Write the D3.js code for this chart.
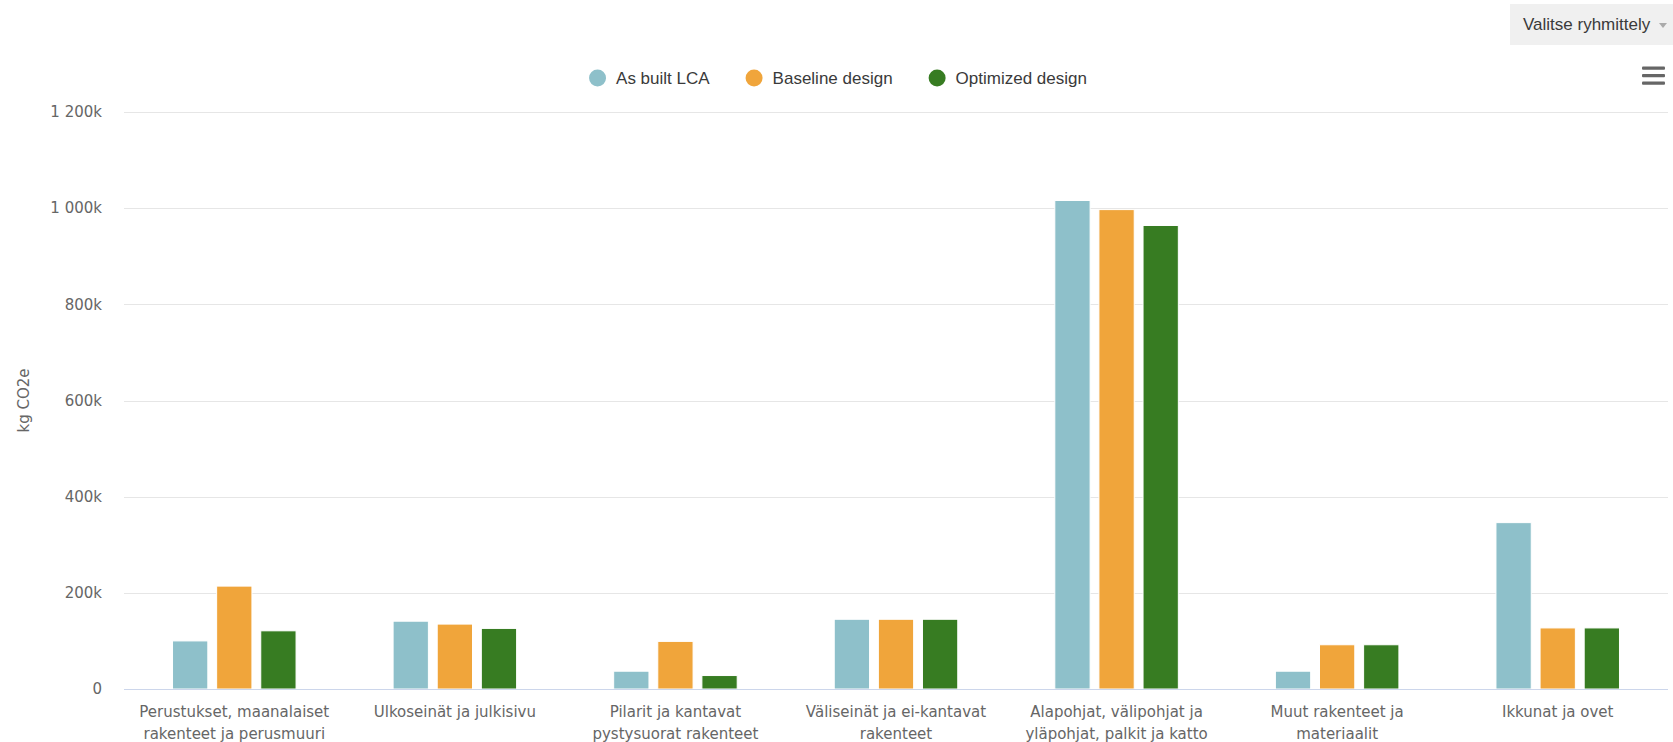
<!DOCTYPE html>
<html>
<head>
<meta charset="utf-8">
<script src="https://cdn.jsdelivr.net/npm/d3@7"></script>
<style>
  body { margin: 0; background: #fff; }
  svg { display: block; }
  .grid line { stroke: #e6e6e6; stroke-width: 1; }
  .tick-label { fill: #666; font-family: "DejaVu Sans", sans-serif; font-size: 15px; }
  .legend text { fill: #3a3a3a; font-family: "Liberation Sans", Arial, sans-serif; font-size: 17px; }
</style>
</head>
<body>
<svg width="1673" height="742"></svg>
<script>
(function() {
  var categories = [
    ["Perustukset, maanalaiset", "rakenteet ja perusmuuri"],
    ["Ulkoseinät ja julkisivu"],
    ["Pilarit ja kantavat", "pystysuorat rakenteet"],
    ["Väliseinät ja ei-kantavat", "rakenteet"],
    ["Alapohjat, välipohjat ja", "yläpohjat, palkit ja katto"],
    ["Muut rakenteet ja", "materiaalit"],
    ["Ikkunat ja ovet"]
  ];
  var seriesNames = ["As built LCA", "Baseline design", "Optimized design"];
  var seriesColors = ["#8ec0ca", "#f0a53b", "#377c22"];

  var asBuilt   = [100000, 141000, 37000, 145000, 1016000, 37000, 346000];
  var baseline  = [214000, 135000, 99000, 145000, 997000, 92000, 127000];
  var optimized = [121000, 126000, 28000, 145000, 964000, 92000, 127000];

  var yTicks = [0, 200000, 400000, 600000, 800000, 1000000, 1200000];

  var svg = d3.select('svg');
  var left = 124, right = 1668, top = 112, bottom = 689;

  var values = [asBuilt, baseline, optimized];
  var catIdx = d3.range(categories.length);

  var x0 = d3.scaleBand().domain(catIdx).range([left, right]);
  var bw = x0.bandwidth();
  var x1 = d3.scaleBand().domain(d3.range(seriesNames.length))
    .range([bw * 0.2, bw * 0.8]).paddingInner(0.2).paddingOuter(0.1);
  var y = d3.scaleLinear().domain([0, 1200000]).range([bottom, top]);

  var fmt = d3.formatLocale({decimal: ",", thousands: " ", grouping: [3], currency: ["", ""]}).format(",d");

  // gridlines
  var grid = svg.append('g').attr('class', 'grid');
  grid.selectAll('line').data(yTicks.slice(1)).enter().append('line')
    .attr('x1', left).attr('x2', right)
    .attr('y1', function(d) { return Math.round(y(d)) + 0.5; })
    .attr('y2', function(d) { return Math.round(y(d)) + 0.5; });

  // y axis labels
  svg.append('g').selectAll('text').data(yTicks).enter().append('text')
    .attr('class', 'tick-label')
    .attr('x', 102)
    .attr('y', function(d) { return y(d); })
    .attr('dy', '0.35em')
    .attr('text-anchor', 'end')
    .text(function(d) { return d === 0 ? '0' : fmt(d / 1000) + 'k'; });

  svg.append('text')
    .attr('class', 'tick-label')
    .attr('transform', 'translate(29,' + ((top + bottom) / 2) + ') rotate(-90)')
    .attr('text-anchor', 'middle')
    .text('kg CO2e');

  // bars
  var groups = svg.append('g').selectAll('g').data(catIdx).enter().append('g')
    .attr('transform', function(i) { return 'translate(' + x0(i) + ',0)'; });
  groups.selectAll('rect').data(function(i) {
    return values.map(function(v, s) { return {s: s, v: v[i]}; });
  }).enter().append('rect')
    .attr('x', function(d) { return x1(d.s); })
    .attr('width', x1.bandwidth())
    .attr('y', function(d) { return y(d.v); })
    .attr('height', function(d) { return y(0) - y(d.v); })
    .attr('fill', function(d) { return seriesColors[d.s]; })
    .attr('stroke', '#fff')
    .attr('stroke-width', 1);

  // x axis line
  svg.append('line')
    .attr('x1', left).attr('x2', right)
    .attr('y1', bottom + 0.5).attr('y2', bottom + 0.5)
    .attr('stroke', '#ccd6eb');

  // x labels
  var xl = svg.append('g').selectAll('text').data(catIdx).enter().append('text')
    .attr('class', 'tick-label')
    .attr('text-anchor', 'middle')
    .attr('x', function(i) { return x0(i) + bw / 2; })
    .attr('y', 717);
  xl.selectAll('tspan').data(function(i) { return categories[i]; }).enter().append('tspan')
    .attr('x', function() { return d3.select(this.parentNode).attr('x'); })
    .attr('dy', function(d, k) { return k === 0 ? 0 : 22; })
    .text(function(d) { return d; });

  // legend
  var legend = svg.append('g').attr('class', 'legend');
  var items = legend.selectAll('g').data(seriesNames).enter().append('g');
  items.append('circle').attr('r', 8.5).attr('cx', 8.5).attr('cy', 0)
    .attr('fill', function(d, i) { return seriesColors[i]; });
  items.append('text').attr('x', 27).attr('y', 0).attr('dy', '0.35em')
    .text(function(d) { return d; });
  var xpos = 0;
  items.each(function() {
    var w = 27 + d3.select(this).select('text').node().getComputedTextLength();
    d3.select(this).attr('transform', 'translate(' + xpos + ',0)');
    xpos += w + 36;
  });
  var total = xpos - 36;
  legend.attr('transform', 'translate(' + (838 - total / 2) + ',78)');

  // grouping button
  svg.append('rect').attr('x', 1510).attr('y', 4).attr('width', 170).attr('height', 41)
    .attr('fill', '#f0f0f0');
  svg.append('text').attr('x', 1523).attr('y', 30)
    .attr('font-family', '"Liberation Sans", Arial, sans-serif').attr('font-size', 17)
    .attr('fill', '#3a3a3a').text('Valitse ryhmittely');
  svg.append('path').attr('d', 'M1659,23 L1667,23 L1663,28 Z').attr('fill', '#aaa');

  // menu icon
  svg.append('g').selectAll('rect').data([66.5, 74, 81.5]).enter().append('rect')
    .attr('x', 1642).attr('y', function(d) { return d; })
    .attr('width', 23).attr('height', 3.2).attr('rx', 1)
    .attr('fill', '#666');
}).call(this);
</script>
</body>
</html>
